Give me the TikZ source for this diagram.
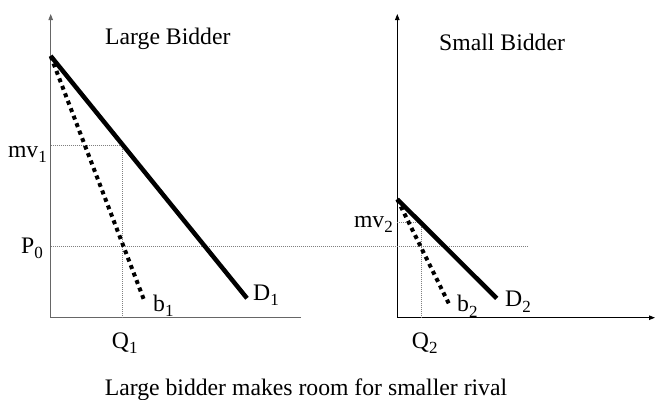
\documentclass[tikz,border=0pt]{standalone}
\usepackage{fontspec}
\setmainfont{Liberation Serif}
\usetikzlibrary{arrows.meta}
\newcommand\lowsub[1]{\raisebox{-0.55ex}{\fontsize{17}{17}\selectfont #1}}

\begin{document}
\begin{tikzpicture}[x=1pt,y=-1pt,
  axis/.style={line width=1pt,-{Triangle[length=6pt,width=4.5pt]}},
  demand/.style={line width=4.5pt},
  bid/.style={line width=4pt,dash pattern=on 4pt off 4pt},
  guide/.style={gray,line width=0.5pt,dash pattern=on 1pt off 1pt},
  lbl/.style={font=\fontsize{23.7}{28}\selectfont,inner sep=0pt}]
  \useasboundingbox (0,0) rectangle (656,399);
  % Axes
  \coordinate (o1) at (50.7,317.7);
  \coordinate (y1) at (50.7,14);
  \coordinate (x1) at (301,317.7);
  \coordinate (o2) at (397.3,317.7);
  \coordinate (y2) at (397.3,14);
  \coordinate (x2) at (655,317.7);
  \draw[axis,gray!80!black] (x1) -| (y1);
  \draw[axis] (o2) -- (y2);
  \draw[axis] (o2) -- (x2);
  % Guide lines
  \coordinate (m1) at (50.7,145);
  \coordinate (k1) at (122.7,145);
  \coordinate (f1) at (122.7,317.7);
  \coordinate (m2) at (397.3,222.3);
  \coordinate (k2) at (421,222.3);
  \coordinate (f2) at (421,317.7);
  \coordinate (p0) at (50.7,246.3);
  \coordinate (p1) at (527.7,246.3);
  \draw[guide] (m1) -- (k1) -- (f1);
  \draw[guide] (m2) -- (k2) -- (f2);
  \draw[guide] (p0) -- (p1);
  % Demand and bid curves
  \coordinate (a1) at (50.7,56);
  \coordinate (d1) at (247,298.3);
  \coordinate (e1) at (144.3,300.7);
  \coordinate (a2) at (397.3,199.3);
  \coordinate (d2) at (496.7,298.3);
  \coordinate (e2) at (450,306);
  \draw[bid] (a1) -- (e1);
  \draw[demand] (a1) -- (d1);
  \draw[bid] (a2) -- (e2);
  \draw[demand] (a2) -- (d2);
  % Labels
  \node[lbl,anchor=base west] (t1) at (105,44.3) {Large Bidder};
  \node[lbl,anchor=base west] (t2) at (439,50) {Small Bidder};
  \node[lbl,anchor=base east] (lm1) at (47,157) {mv\lowsub{1}};
  \node[lbl,anchor=base east] (lp0) at (43,253) {P\lowsub{0}};
  \node[lbl,anchor=base east] (lm2) at (393,227) {mv\lowsub{2}};
  \node[lbl,anchor=base west] (ld1) at (253,300) {D\lowsub{1}};
  \node[lbl,anchor=base west] (lb1) at (153,311) {b\lowsub{1}};
  \node[lbl,anchor=base west] (ld2) at (505,306.7) {D\lowsub{2}};
  \node[lbl,anchor=base west] (lb2) at (457,311.7) {b\lowsub{2}};
  \node[lbl,anchor=base west] (lq1) at (111.7,348) {Q\lowsub{1}};
  \node[lbl,anchor=base west] (lq2) at (411.7,348) {Q\lowsub{2}};
  \node[lbl,anchor=base] (cap) at (306,395) {Large bidder makes room for smaller rival};
\end{tikzpicture}
\end{document}
